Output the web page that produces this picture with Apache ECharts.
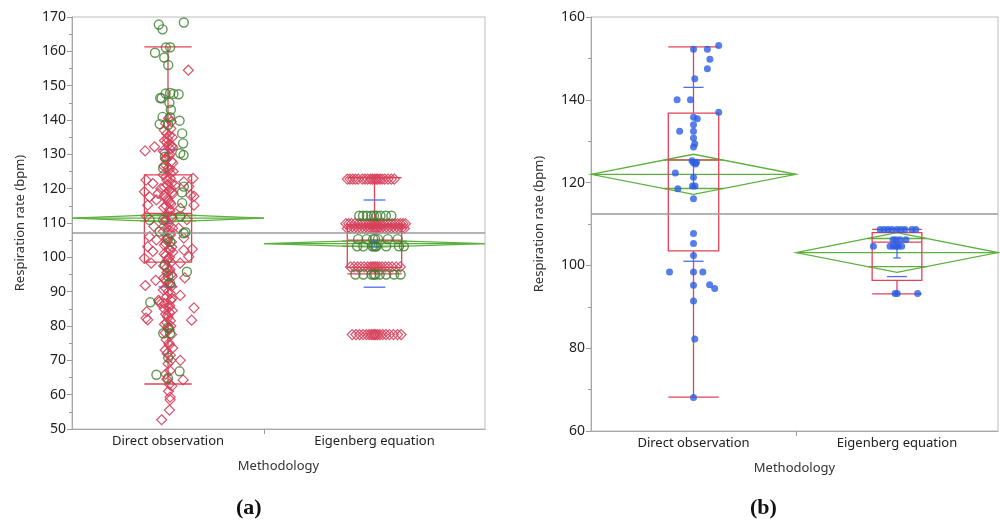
<!DOCTYPE html>
<html>
<head>
<meta charset="utf-8">
<script src="https://cdn.jsdelivr.net/npm/echarts@6/dist/echarts.min.js"></script>
<style>
  html, body { margin: 0; background: #fff; }
  #main { width: 1000px; height: 526px; }
</style>
</head>
<body>
<div id="main"></div>
<script>
const categories = ['Direct observation', 'Eigenberg equation'];

// ---- panel (a) ----
const groupWidthA = [192, 221];           // group widths are proportional to group size
// [low whisker, Q1, median, Q3, high whisker]
const boxA = [[63.1, 98.6, 112.8, 124.0, 161.3], [95.2, 97.1, 105.0, 109.4, 123.2]];
const meanA = [111.4, 104.0];
const meanCiA = [1.1, 1.0];
const sdA = [20.0, 12.7];
const seA = [1.6, 0.9];
const grandMeanA = 107.3;

// points: [jitter in box half-widths, bpm]
const directCirclesA = [
  [-0.39, 167.8], [-0.23, 166.4], [0.67, 168.4], [-0.09, 161.1], [0.09, 161.2], [-0.55, 159.6], [-0.16, 158.2], [0.01, 156.0],
  [-0.33, 146.4], [-0.1, 147.7], [0.09, 147.9], [0.23, 147.6], [0.45, 147.5], [-0.27, 146.3], [0.06, 145.0], [0.12, 143.0],
  [-0.23, 140.9], [0.09, 140.8], [0.49, 139.8], [-0.35, 138.8], [0.01, 138.6], [0.6, 136.1], [0.64, 133.2], [0.52, 130.3],
  [-0.13, 129.3], [0.66, 129.8], [-0.2, 125.9], [0.67, 120.6], [0.59, 118.9], [0.6, 115.8], [0.52, 112.0], [-0.78, 110.9],
  [-0.2, 110.9], [0.74, 107.3], [-0.35, 107.5], [0.66, 107.0], [0.0, 105.5], [0.09, 104.5], [0.8, 95.8], [-0.13, 97.8],
  [0.01, 94.5], [0.09, 92.5], [-0.75, 86.9], [-0.2, 77.9], [0.09, 77.9], [0.0, 79.5], [0.01, 70.8], [0.49, 66.8],
  [-0.49, 65.8], [0.0, 64.8]
];
const directDiamondsA = [
  [0.86, 154.5], [-0.97, 131.0], [-0.57, 132.2], [1.06, 123.0], [1.1, 117.8], [1.03, 102.4], [-0.96, 91.8], [-0.52, 93.3],
  [0.71, 94.0], [0.52, 88.9], [-0.38, 87.0], [-0.9, 84.2], [-0.93, 82.3], [1.1, 85.3], [1.0, 81.7], [0.2, 73.6],
  [0.52, 70.0], [0.64, 64.3], [0.09, 59.3], [0.06, 55.5], [-0.27, 52.7], [0.16, 62.5], [-0.86, 81.8], [0.09, 58.5],
  [-0.93, 122.5], [-0.64, 121.5], [-1.0, 119.1], [-0.78, 117.6], [-0.49, 116.7], [-0.86, 115.2], [-0.42, 118.6], [0.67, 122.0],
  [0.88, 120.6], [0.96, 118.1], [0.52, 114.3], [1.1, 115.2], [-0.86, 103.1], [-0.64, 101.7], [-1.0, 99.7], [-0.71, 98.3],
  [0.67, 102.1], [0.88, 100.2], [0.52, 98.3], [-0.49, 105.1], [0.67, 105.6], [-0.78, 106.0], [-0.9, 112.0], [-0.6, 109.0],
  [0.8, 111.0], [0.45, 108.5], [-0.3, 120.0], [0.3, 121.0], [-0.4, 87.5], [-0.3, 86.5],
  [0.02, 140.5], [-0.1, 139.0], [0.12, 137.5], [-0.05, 136.0], [0.18, 135.0], [-0.15, 134.0], [0.05, 133.0], [0.2, 132.0],
  [-0.2, 131.0], [0.08, 130.0], [-0.08, 129.0], [0.15, 128.0], [-0.12, 127.0], [0.02, 126.0], [0.22, 125.0], [-0.2, 124.0],
  [0.1, 123.0], [-0.05, 122.5], [0.15, 121.5], [-0.15, 120.5], [0.05, 119.5], [0.2, 118.5], [-0.1, 117.5], [0.0, 116.5],
  [0.12, 115.5], [-0.18, 114.5], [0.08, 113.5], [-0.05, 112.5], [0.18, 111.5], [-0.12, 110.5], [0.03, 109.5], [0.2, 108.5],
  [-0.2, 107.5], [0.1, 106.5], [-0.05, 105.5], [0.15, 104.5], [-0.15, 103.5], [0.05, 102.5], [0.2, 101.5], [-0.1, 100.5],
  [0.0, 99.5], [0.12, 98.5], [-0.18, 97.5], [0.08, 96.5], [-0.05, 95.5], [0.18, 94.5], [-0.12, 93.5], [0.03, 92.5],
  [0.15, 91.5], [-0.2, 90.5], [0.1, 89.5], [-0.05, 88.5], [0.12, 87.5], [-0.15, 86.5], [0.05, 85.5], [0.18, 84.5],
  [-0.1, 83.5], [0.0, 82.5], [0.1, 81.5], [-0.15, 80.5], [0.05, 79.0], [0.15, 77.5], [-0.08, 76.0], [0.05, 74.5],
  [-0.12, 73.0], [0.1, 71.5], [0.0, 69.0], [0.08, 67.0], [-0.05, 64.5], [0.02, 61.0],
  [-0.02, 134.5], [0.1, 131.5], [-0.1, 128.5], [0.05, 125.5], [-0.08, 123.5], [0.12, 120.0], [-0.03, 117.0], [0.07, 114.0],
  [-0.1, 111.0], [0.04, 108.0], [-0.06, 105.0], [0.09, 102.0], [-0.04, 99.0], [0.06, 96.0], [-0.08, 93.0], [0.02, 90.0],
  [0.07, 86.0], [-0.03, 83.0], [0.04, 79.5],
  [0.14, 139.5], [-0.16, 137.0], [0.06, 135.5], [-0.06, 133.5], [0.16, 132.5], [-0.14, 130.5], [0.04, 129.5], [0.2, 127.5],
  [-0.18, 126.5], [0.1, 124.5], [-0.02, 121.0], [0.18, 119.0], [-0.16, 118.0], [0.08, 116.0], [-0.08, 115.0], [0.14, 112.0],
  [-0.18, 109.0], [0.1, 107.0], [-0.1, 104.0], [0.16, 103.0], [-0.16, 101.0], [0.06, 100.0], [-0.06, 97.0], [0.14, 95.0],
  [-0.18, 94.0], [0.1, 92.0], [-0.1, 91.0], [0.16, 88.0], [-0.16, 85.0], [0.06, 84.0], [-0.06, 81.0], [0.12, 80.0],
  [-0.12, 78.0], [0.04, 75.0], [-0.04, 72.0], [0.12, 70.0], [-0.1, 66.0], [0.06, 63.0]
];
// Eigenberg rows: [bpm, jitters]
const eigenCircleRowsA = [
  [112.1, [-0.56, -0.42, -0.28, -0.12, -0.02, 0.08, 0.22, 0.42, 0.62]],
  [105.3, [-0.6, -0.29, -0.05, 0.02, 0.13, 0.49, 0.85]],
  [103.2, [-0.64, -0.41, -0.08, -0.02, 0.04, 0.07, 0.43, 0.9, 1.08]],
  [95.0, [-0.7, -0.41, -0.11, -0.02, 0.03, 0.19, 0.43, 0.72, 0.96]]
];
const eigenDiamondRowsA = [
  [122.8, [-1.0, -0.9, -0.8, -0.7, -0.6, -0.45, -0.35, -0.25, -0.15, -0.08, 0, 0.06, 0.12, 0.2, 0.28, 0.38, 0.5, 0.62, 0.73]],
  [109.8, [-1.05, -0.95, -0.85, -0.72, -0.6, -0.5, -0.4, -0.3, -0.2, -0.12, -0.05, 0, 0.05, 0.1, 0.18, 0.25, 0.35, 0.45, 0.55, 0.65, 0.75, 0.85, 0.95, 1.05, 1.14]],
  [108.4, [-1.0, -0.88, -0.75, -0.62, -0.5, -0.38, -0.25, -0.15, -0.05, 0.02, 0.08, 0.15, 0.25, 0.38, 0.5, 0.62, 0.75, 0.88, 1.0, 1.1]],
  [97.2, [-0.88, -0.75, -0.62, -0.5, -0.38, -0.25, -0.15, -0.08, -0.02, 0.04, 0.1, 0.18, 0.28, 0.4, 0.52, 0.65, 0.8, 0.95]],
  [77.5, [-0.82, -0.68, -0.55, -0.42, -0.3, -0.2, -0.12, -0.05, 0, 0.05, 0.12, 0.2, 0.3, 0.42, 0.55, 0.7, 0.85, 0.98]]
];

// ---- panel (b) ----
const groupWidthB = [205, 202];
const boxB = [[68.2, 103.5, 125.5, 136.8, 152.8], [93.1, 96.4, 105.6, 107.9, 108.7]];
const meanB = [122.0, 103.1];
const meanCiB = [4.85, 4.8];
const sdB = [21.0, 5.8];
const seB = [3.2, 1.3];
const grandMeanB = 112.4;
const directDotsB = [
  [0, 152.2], [0.55, 152.2], [1.0, 153.1], [0.65, 149.8], [0.55, 147.5], [0.05, 145.1], [-0.65, 140.0], [-0.12, 140.0],
  [1.0, 137.0], [0, 135.8], [0.15, 135.4], [0, 134.0], [-0.55, 132.4], [0, 132.4], [0, 130.8], [0.05, 129.4],
  [0, 128.6], [-0.06, 125.3], [0, 124.8], [0.08, 124.5], [0.12, 124.9], [-0.72, 122.3], [0, 121.3], [-0.62, 118.5],
  [-0.04, 119.2], [0.06, 119.2], [0, 116.1], [0, 107.7], [0, 105.3], [0, 102.4], [-0.95, 98.4], [0, 98.4],
  [0.37, 98.4], [0, 95.2], [0.64, 95.3], [0.84, 94.4], [0, 91.4], [0.05, 82.2], [0, 68.1]
];
const eigenDotRowsB = [
  [108.7, [-0.68, -0.52, -0.36, -0.2, 0, 0.16, 0.32, 0.6, 0.76]],
  [106.2, [-0.16, -0.04, 0.12, 0.36]],
  [104.6, [-0.95, -0.28, -0.15, -0.04, 0.05, 0.19]],
  [93.2, [-0.08, 0.01, 0.83]]
];

const BOX_FRAC = 0.123;
const RED = '#e04258';
const GREEN_LINE = '#5cb03e';
const BLUE_LINE = '#4a6ff0';
const FONT = '"Noto Sans", sans-serif';

function layout(widths) {
  let acc = 0;
  return widths.map(w => {
    const g = { left: acc, right: acc + w, center: acc + w / 2, half: w * BOX_FRAC };
    acc += w;
    return g;
  });
}
const groupsA = layout(groupWidthA);
const groupsB = layout(groupWidthB);

const place = (groups, gi, pts) => pts.map(([j, v]) => [groups[gi].center + j * groups[gi].half, v]);
const rows = (groups, gi, rs) => rs.flatMap(([v, js]) => js.map(j => [groups[gi].center + j * groups[gi].half, v]));

function renderBox(params, api) {
  const c = api.value(0), h = api.value(1);
  const lo = api.value(2), q1 = api.value(3), md = api.value(4), q3 = api.value(5), hi = api.value(6);
  const p = (x, y) => api.coord([x, y]);
  const style = { stroke: RED, fill: null, lineWidth: 1.3 };
  const line = (a, b) => ({ type: 'line', shape: { x1: a[0], y1: a[1], x2: b[0], y2: b[1] }, style });
  const tl = p(c - h, q3), br = p(c + h, q1);
  return { type: 'group', children: [
    { type: 'rect', shape: { x: tl[0], y: tl[1], width: br[0] - tl[0], height: br[1] - tl[1] }, style },
    line(p(c - h, md), p(c + h, md)),
    line(p(c, q3), p(c, hi)),
    line(p(c, q1), p(c, lo)),
    line(p(c - h, hi), p(c + h, hi)),
    line(p(c - h, lo), p(c + h, lo))
  ] };
}

function renderDiamond(params, api) {
  const l = api.value(0), r = api.value(1), m = api.value(2), ci = api.value(3);
  const mid = (l + r) / 2, hw = (r - l) / 2;
  const p = (x, y) => api.coord([x, y]);
  const style = { stroke: GREEN_LINE, fill: null, lineWidth: 1.3 };
  const ov = ci / Math.SQRT2, ow = hw * (1 - 1 / Math.SQRT2);
  const line = (a, b) => ({ type: 'line', shape: { x1: a[0], y1: a[1], x2: b[0], y2: b[1] }, style });
  return { type: 'group', children: [
    { type: 'polygon', shape: { points: [p(l, m), p(mid, m + ci), p(r, m), p(mid, m - ci)] }, style },
    line(p(l, m), p(r, m)),
    line(p(mid - ow, m + ov), p(mid + ow, m + ov)),
    line(p(mid - ow, m - ov), p(mid + ow, m - ov))
  ] };
}

function renderSd(params, api) {
  const c = api.value(0), h = api.value(1), m = api.value(2), sd = api.value(3), se = api.value(4);
  const p = (x, y) => api.coord([x, y]);
  const style = { stroke: BLUE_LINE, lineWidth: 1.3 };
  const line = (a, b) => ({ type: 'line', shape: { x1: a[0], y1: a[1], x2: b[0], y2: b[1] }, style });
  const w = h * 0.4, cw = h * 0.15;
  return { type: 'group', children: [
    line(p(c - w, m + sd), p(c + w, m + sd)),
    line(p(c - w, m - sd), p(c + w, m - sd)),
    line(p(c, m - se), p(c, m + se)),
    line(p(c - cw, m + se), p(c + cw, m + se)),
    line(p(c - cw, m - se), p(c + cw, m - se))
  ] };
}

function panelSeries(idx, groups, box, mean, ci, sd, se) {
  return [
    { type: 'custom', xAxisIndex: idx, yAxisIndex: idx, renderItem: renderDiamond, z: 2,
      data: groups.map((g, i) => [g.left, g.right, mean[i], ci[i]]) },
    { type: 'custom', xAxisIndex: idx, yAxisIndex: idx, renderItem: renderBox, z: 3,
      data: groups.map((g, i) => [g.center, g.half].concat(box[i])) },
    { type: 'custom', xAxisIndex: idx, yAxisIndex: idx, renderItem: renderSd, z: 3,
      data: groups.map((g, i) => [g.center, g.half, mean[i], sd[i], se[i]]) }
  ];
}

function grandLine(v) {
  return { silent: true, symbol: 'none', label: { show: false },
    lineStyle: { color: '#9b9b9b', type: 'solid', width: 1.6 }, data: [{ yAxis: v }] };
}

function xAxis(idx, groups) {
  const split = groups[0].right;
  return {
    type: 'value', gridIndex: idx, min: 0, max: groups[1].right,
    name: 'Methodology', nameLocation: 'middle', nameGap: 31,
    nameTextStyle: { fontFamily: FONT, fontSize: 13, color: '#333' },
    axisLine: { lineStyle: { color: '#a8a8a8' } },
    axisTick: { show: true, customValues: [split], length: 5, lineStyle: { color: '#999' } },
    axisLabel: { customValues: groups.map(g => g.center), margin: 6, fontFamily: FONT, fontSize: 13, color: '#222',
      formatter: v => (v < split ? categories[0] : categories[1]) },
    splitLine: { show: false }
  };
}

function yAxis(idx, min, max, interval) {
  return {
    type: 'value', gridIndex: idx, min, max, interval,
    name: 'Respiration rate (bpm)', nameLocation: 'middle', nameGap: 45,
    nameTextStyle: { fontFamily: FONT, fontSize: 13, color: '#333' },
    axisLine: { show: true, lineStyle: { color: '#a8a8a8' } },
    axisTick: { show: true, length: 5, lineStyle: { color: '#999' } },
    minorTick: { show: true, splitNumber: 2, length: 3, lineStyle: { color: '#999' } },
    axisLabel: { margin: 6, fontFamily: FONT, fontSize: 14, color: '#222' },
    splitLine: { show: false }
  };
}

const chart = echarts.init(document.getElementById('main'));
chart.setOption({
  animation: false,
  backgroundColor: '#fff',
  grid: [
    { left: 72, top: 17, width: 413, height: 412, show: true, borderColor: '#bdbdbd', borderWidth: 1 },
    { left: 591, top: 17, width: 407, height: 414, show: true, borderColor: '#bdbdbd', borderWidth: 1 }
  ],
  xAxis: [xAxis(0, groupsA), xAxis(1, groupsB)],
  yAxis: [yAxis(0, 50, 170, 10), yAxis(1, 60, 160, 20)],
  graphic: [
    { type: 'text', left: 236, top: 497, style: { text: '(a)', font: 'bold 22px "Liberation Serif", serif', fill: '#111' } },
    { type: 'text', left: 750, top: 497, style: { text: '(b)', font: 'bold 22px "Liberation Serif", serif', fill: '#111' } }
  ],
  series: [
    ...panelSeries(0, groupsA, boxA, meanA, meanCiA, sdA, seA),
    { type: 'scatter', xAxisIndex: 0, yAxisIndex: 0, symbol: 'diamond', symbolSize: 10, z: 4,
      itemStyle: { color: 'rgba(0,0,0,0)', borderColor: '#d6405a', borderWidth: 1.2, opacity: 0.9 },
      data: place(groupsA, 0, directDiamondsA).concat(rows(groupsA, 1, eigenDiamondRowsA)),
      markLine: grandLine(grandMeanA) },
    { type: 'scatter', xAxisIndex: 0, yAxisIndex: 0, symbol: 'circle', symbolSize: 9, z: 5,
      itemStyle: { color: 'rgba(0,0,0,0)', borderColor: '#3c7d2c', borderWidth: 1.4 },
      data: place(groupsA, 0, directCirclesA).concat(rows(groupsA, 1, eigenCircleRowsA)) },
    ...panelSeries(1, groupsB, boxB, meanB, meanCiB, sdB, seB),
    { type: 'scatter', xAxisIndex: 1, yAxisIndex: 1, symbol: 'circle', symbolSize: 7, z: 5,
      itemStyle: { color: '#2d5ee3' },
      data: place(groupsB, 0, directDotsB).concat(rows(groupsB, 1, eigenDotRowsB)),
      markLine: grandLine(grandMeanB) }
  ]
});
</script>
</body>
</html>
